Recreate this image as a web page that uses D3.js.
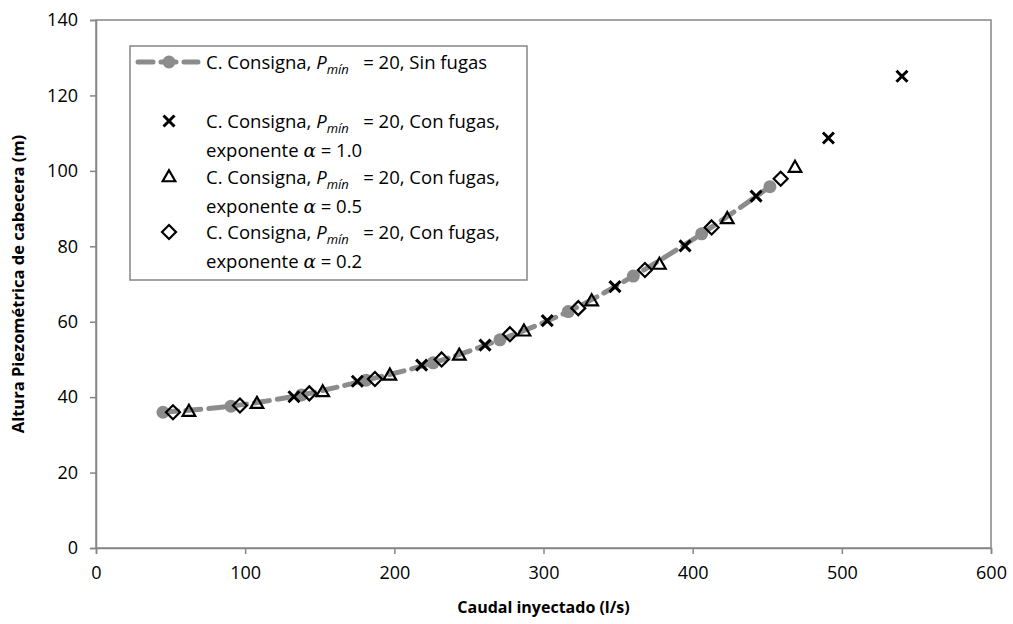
<!DOCTYPE html>
<html>
<head>
<meta charset="utf-8">
<script src="https://cdn.jsdelivr.net/npm/d3@7"></script>
<style>
  body { margin: 0; background: #fff; }
  svg text { font-family: "Open Sans", Lato, sans-serif; fill: #000; }
</style>
</head>
<body>
<svg id="chart" width="1013" height="624"></svg>
<script>
// Sin fugas (línea discontinua con círculos)
var sinX = [44.9, 90.5, 137.8, 181, 226, 270.8, 316.6, 360.2, 406, 451.8];
var sinY = [36.0, 37.6, 40.6, 44.5, 49.1, 55.2, 62.7, 72.1, 83.3, 95.8];
// Con fugas, alfa = 1.0 (cruces)
var a10X = [132.7, 175.2, 218.3, 260.8, 302.5, 347.9, 394.9, 442.5, 491, 540.3];
var a10Y = [40.1, 44.2, 48.5, 53.8, 60.3, 69.3, 80.1, 93.3, 108.7, 125.1];
// Con fugas, alfa = 0.5 (triángulos)
var a05X = [62.3, 107.9, 152, 197, 243.5, 286.9, 332.3, 377.7, 423.2, 468.6];
var a05Y = [36.3, 38.4, 41.5, 45.9, 51.2, 57.6, 65.6, 75.3, 87.4, 101];
// Con fugas, alfa = 0.2 (rombos)
var a02X = [51.6, 96.5, 143, 187, 231.7, 277.5, 323.3, 368, 412.7, 459];
var a02Y = [36.0, 37.8, 41.0, 44.8, 50.0, 56.7, 63.6, 73.7, 85.0, 97.9];

var xTicks = [0, 100, 200, 300, 400, 500, 600];
var yTicks = [0, 20, 40, 60, 80, 100, 120, 140];
var legendAlphas = ["1.0", "0.5", "0.2"];

var svg = d3.select("#chart");
var pLeft = 96, pRight = 991, pTop = 20, pBottom = 548;
var x = d3.scaleLinear().domain([0, 600]).range([pLeft, pRight]);
var y = d3.scaleLinear().domain([0, 140]).range([pBottom, pTop]);
var axisCol = "#868686", grayCol = "#8c8c8c";

// marco del area de trazado
svg.append("rect").attr("x", pLeft).attr("y", pTop)
  .attr("width", pRight - pLeft).attr("height", pBottom - pTop)
  .attr("fill", "none").attr("stroke", axisCol).attr("stroke-width", 1.5);

var xAxis = svg.append("g").attr("transform", "translate(0," + pBottom + ")")
  .call(d3.axisBottom(x).tickValues(xTicks).tickSize(6).tickPadding(12));
var yAxis = svg.append("g").attr("transform", "translate(" + pLeft + ",0)")
  .call(d3.axisLeft(y).tickValues(yTicks).tickSize(6).tickPadding(12));
[xAxis, yAxis].forEach(function(g) {
  g.selectAll("path, line").attr("stroke", axisCol).attr("stroke-width", 1.5);
  g.selectAll("text").attr("font-size", 18).attr("font-family", "'Open Sans', sans-serif").attr("fill", "#000");
});

svg.append("text").attr("x", (pLeft + pRight) / 2).attr("y", 613)
  .attr("text-anchor", "middle").attr("font-weight", "bold").attr("font-size", 16)
  .text("Caudal inyectado (l/s)");
svg.append("text").attr("transform", "translate(24," + ((pTop + pBottom) / 2) + ") rotate(-90)")
  .attr("text-anchor", "middle").attr("font-weight", "bold").attr("font-size", 16.5)
  .text("Altura Piezométrica de cabecera (m)");

// series
var sinData = sinX.map(function(d, i) { return [d, sinY[i]]; });
svg.append("path").datum(sinData)
  .attr("d", d3.line().x(function(d) { return x(d[0]); }).y(function(d) { return y(d[1]); }).curve(d3.curveCatmullRom))
  .attr("fill", "none").attr("stroke", grayCol).attr("stroke-width", 5)
  .attr("stroke-dasharray", "15 8").attr("stroke-linecap", "round");
svg.selectAll("circle.sin").data(sinData).enter().append("circle")
  .attr("cx", function(d) { return x(d[0]); }).attr("cy", function(d) { return y(d[1]); })
  .attr("r", 6.5).attr("fill", grayCol);

function crossPath(s) { return "M" + (-s) + "," + (-s) + "L" + s + "," + s + "M" + (-s) + "," + s + "L" + s + "," + (-s); }
function triPath(s) { return "M0," + (-s) + "L" + (s * 1.0) + "," + (s * 0.75) + "L" + (-s * 1.0) + "," + (s * 0.75) + "Z"; }
function diaPath(s) { return "M0," + (-s) + "L" + s + ",0L0," + s + "L" + (-s) + ",0Z"; }

var shapes = [crossPath(5.5), triPath(6.3), diaPath(7)];
var sws = [3, 2.2, 2.2];
function drawMarkers(xs, ys, k) {
  svg.append("g").selectAll("path").data(xs).enter().append("path")
    .attr("transform", function(d, i) { return "translate(" + x(d) + "," + y(ys[i]) + ")"; })
    .attr("d", shapes[k]).attr("fill", "none").attr("stroke", "#000").attr("stroke-width", sws[k]);
}
drawMarkers(a10X, a10Y, 0);
drawMarkers(a05X, a05Y, 1);
drawMarkers(a02X, a02Y, 2);

// leyenda
var lg = svg.append("g");
lg.append("rect").attr("x", 130).attr("y", 46).attr("width", 397).attr("height", 234)
  .attr("fill", "#fff").attr("stroke", axisCol).attr("stroke-width", 1.5);
lg.append("line").attr("x1", 138).attr("x2", 198).attr("y1", 62).attr("y2", 62)
  .attr("stroke", grayCol).attr("stroke-width", 5).attr("stroke-dasharray", "15 8").attr("stroke-linecap", "round");
lg.append("circle").attr("cx", 169).attr("cy", 62).attr("r", 6.5).attr("fill", grayCol);

function legendLine(yy, tail) {
  var t = lg.append("text").attr("x", 206).attr("y", yy).attr("font-size", 18.5);
  t.append("tspan").text("C. Consigna, ");
  t.append("tspan").attr("font-style", "italic").text("P");
  t.append("tspan").attr("font-style", "italic").attr("font-size", 13).attr("dy", 5).text("mín");
  t.append("tspan").attr("dy", -5).attr("xml:space", "preserve").text("   = 20, " + tail);
}
function expLine(yy, a) {
  var t = lg.append("text").attr("x", 206).attr("y", yy).attr("font-size", 18.5);
  t.append("tspan").text("exponente ");
  t.append("tspan").attr("font-style", "italic").attr("font-family", "DejaVu Serif, serif").text("α");
  t.append("tspan").text(" = " + a);
}
legendLine(69, "Sin fugas");
legendAlphas.forEach(function(a, i) {
  var cy = 121 + i * 55.5;
  lg.append("path").attr("transform", "translate(169," + cy + ")").attr("d", shapes[i])
    .attr("fill", "none").attr("stroke", "#000").attr("stroke-width", sws[i]);
  legendLine(cy + 7, "Con fugas,");
  expLine(cy + 36, a);
});
</script>
</body>
</html>
